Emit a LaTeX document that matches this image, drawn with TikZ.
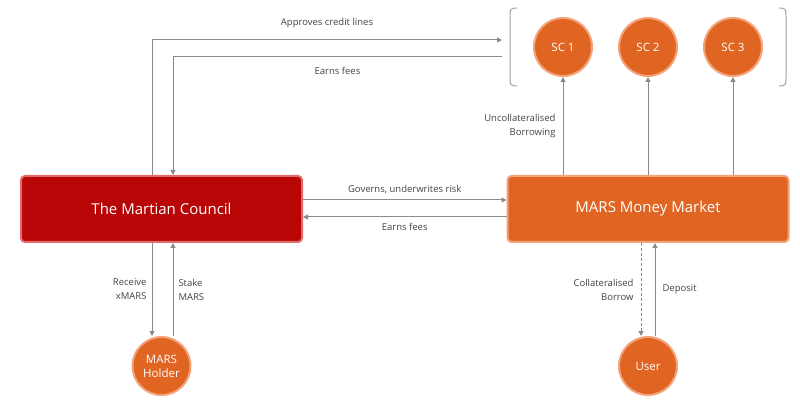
\documentclass[tikz,border=0pt]{standalone}
\usepackage{fontspec}
\setmainfont{Open Sans}
\usetikzlibrary{arrows.meta}
\definecolor{cred}{HTML}{B80606}
\definecolor{credb}{HTML}{E26A6A}
\definecolor{cor}{HTML}{E06522}
\definecolor{corb}{HTML}{F3A27A}
\definecolor{cln}{HTML}{8A8A8A}
\definecolor{ctx}{HTML}{444444}
\begin{document}
\begin{tikzpicture}[x=1pt,y=-1pt,
  box/.style={draw=#1, line width=2pt, rounded corners=4pt, minimum width=281pt, minimum height=66pt, text=white, font=\fontsize{15}{18}\selectfont},
  circ/.style={circle, fill=cor, draw=corb, line width=2pt, minimum size=58pt, inner sep=0pt, text=white, align=center, font=\fontsize{11.5}{14}\selectfont},
  ar/.style={draw=cln, line width=1pt, -{Triangle[length=5pt,width=5pt]}},
  lab/.style={text=ctx, font=\fontsize{9.5}{14}\selectfont, inner sep=1pt}]
\useasboundingbox (0,0) rectangle (800,403);
\node[box=credb, fill=cred] (mc) at (161.5,209) {The Martian Council};
\node[box=corb, fill=cor] (mm) at (648,209) {MARS Money Market};
\node[circ] (sc1) at (563,47) {SC 1};
\node[circ] (sc2) at (648,47) {SC 2};
\node[circ] (sc3) at (733,47) {SC 3};
\node[circ] (mh) at (161.5,366) {MARS\\Holder};
\node[circ] (us) at (648,366) {User};
\coordinate (bl) at (502,40);
\coordinate (br) at (502,57);
% bracket
\draw[cln!80, line width=1pt] (517,8) .. controls (510,8) and (510,10) .. (510,16) -- (510,78) .. controls (510,84) and (510,86) .. (517,86);
\draw[cln!80, line width=1pt] (779,8) .. controls (786,8) and (786,10) .. (786,16) -- (786,78) .. controls (786,84) and (786,86) .. (779,86);
\draw[ar] ([xshift=-9.5pt]mc.north) |- (bl) node[lab, pos=0.75, above=11pt] {Approves credit lines};
\draw[ar] (br) -| ([xshift=11.5pt]mc.north) node[lab, pos=0.25, below=9pt] {Earns fees};
\draw[ar] (mc.east |- 0,200) -- (mm.west |- 0,200) node[lab, midway, above=5pt] {Governs, underwrites risk};
\draw[ar] (mm.west |- 0,217) -- (mc.east |- 0,217) node[lab, midway, below=5pt] {Earns fees};
\draw[ar] ([xshift=-9.5pt]mc.south) -- ([xshift=-9.5pt]mc.south |- mh.north) node[lab, midway, left=4pt, align=right] {Receive\\xMARS};
\draw[ar] ([xshift=11.5pt]mc.south |- mh.north) -- ([xshift=11.5pt]mc.south) node[lab, midway, right=4pt, align=left] {Stake\\MARS};
\draw[ar, dashed, dash pattern=on 3pt off 2pt] ([xshift=-7pt]mm.south) -- ([xshift=-7pt]mm.south |- us.north) node[lab, midway, left=6pt, align=right] {Collateralised\\Borrow};
\draw[ar] ([xshift=7pt]mm.south |- us.north) -- ([xshift=7pt]mm.south) node[lab, midway, right=6pt, align=left] {Deposit};
\draw[ar] (mm.north -| sc1) -- (sc1.south) node[lab, pos=0.5, left=6pt, align=right] {Uncollateralised\\Borrowing};
\draw[ar] (mm.north -| sc2) -- (sc2.south);
\draw[ar] (mm.north -| sc3) -- (sc3.south);
\end{tikzpicture}
\end{document}
